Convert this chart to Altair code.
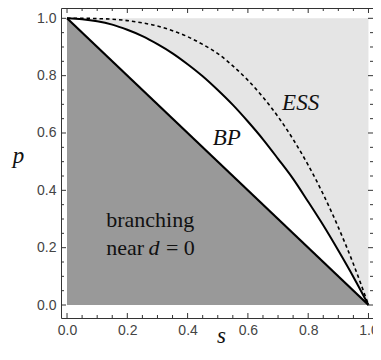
import altair as alt
import pandas as pd

# ---- data ----
s_grid = [0.0, 0.05, 0.1, 0.15, 0.2, 0.25, 0.3, 0.35, 0.4, 0.45, 0.5,
          0.55, 0.6, 0.65, 0.7, 0.75, 0.8, 0.85, 0.9, 0.95, 1.0]
bp_p = [1.0, 0.997, 0.99, 0.978, 0.96, 0.938, 0.91, 0.878, 0.84, 0.798, 0.75,
        0.698, 0.64, 0.578, 0.51, 0.44, 0.36, 0.278, 0.19, 0.098, 0.0]
ess_p = [1.0, 1.0, 0.999, 0.997, 0.992, 0.984, 0.973, 0.957, 0.936, 0.909, 0.877,
         0.834, 0.784, 0.725, 0.657, 0.578, 0.488, 0.386, 0.271, 0.143, 0.0]
diag_s = [0.0, 1.0]
diag_p = [1.0, 0.0]
box_s = [0.0, 1.0]
box_top = [1.0, 1.0]

major_ticks = [0.0, 0.2, 0.4, 0.6, 0.8, 1.0]
minor_ticks = [0.05, 0.1, 0.15, 0.25, 0.3, 0.35, 0.45, 0.5, 0.55,
               0.65, 0.7, 0.75, 0.85, 0.9, 0.95]

label_text = ["ESS", "BP"]
label_s = [0.775, 0.53]
label_p = [0.680, 0.558]

W, H = 312, 310

curves = pd.DataFrame({"s": s_grid, "bp": bp_p, "ess": ess_p})
diag = pd.DataFrame({"s": diag_s, "p": diag_p})
box = pd.DataFrame({"s": box_s, "p": box_top})
majors = pd.DataFrame({"t": major_ticks})
minors = pd.DataFrame({"t": minor_ticks})
labels = pd.DataFrame({"txt": label_text, "s": label_s, "p": label_p})

xs = alt.Scale(domain=[-0.02, 1.015], nice=False, zero=False)
ys = alt.Scale(domain=[-0.0453, 1.036], nice=False, zero=False)

xaxis = alt.Axis(values=major_ticks, format=".1f", ticks=False, tickSize=0, domain=False,
                 grid=False, labelPadding=5, labelFont="Liberation Sans", labelFontSize=14,
                 labelColor="#444", title="s", titleFont="Liberation Serif",
                 titleFontStyle="italic", titleFontWeight="normal", titleFontSize=23,
                 titleColor="#111", titleAlign="center", titleBaseline="alphabetic",
                 titleX=160, titleY=24, labelFlush=False)
yaxis = alt.Axis(values=major_ticks, format=".1f", ticks=False, tickSize=0, domain=False,
                 grid=False, labelPadding=5, labelFont="Liberation Sans", labelFontSize=14,
                 labelColor="#444", title="p", titleFont="Liberation Serif",
                 titleFontStyle="italic", titleFontWeight="normal", titleFontSize=23,
                 titleColor="#111", titleAngle=0, titleAlign="center",
                 titleBaseline="alphabetic", titleX=-43, titleY=154, labelFlush=False)

def X(f):
    return alt.X(f, type="quantitative", scale=xs, axis=xaxis)

def Y(f):
    return alt.Y(f, type="quantitative", scale=ys, axis=yaxis)

light = alt.Chart(box).mark_area(color="#e5e5e5").encode(x=X("s"), y=Y("p"), y2=alt.datum(0))
white = alt.Chart(curves).mark_area(color="#ffffff", interpolate="monotone").encode(
    x=X("s"), y=Y("bp"), y2=alt.datum(0))
dark = alt.Chart(diag).mark_area(color="#999999").encode(x=X("s"), y=Y("p"), y2=alt.datum(0))

diag_line = alt.Chart(diag).mark_line(color="#000", strokeWidth=2.2).encode(x=X("s"), y=Y("p"))
bp_line = alt.Chart(curves).mark_line(color="#000", strokeWidth=2, interpolate="monotone").encode(
    x=X("s"), y=Y("bp"))
ess_line = alt.Chart(curves).mark_line(color="#000", strokeWidth=1.6, strokeDash=[3.5, 3],
                                       interpolate="monotone").encode(x=X("s"), y=Y("ess"))

lab = alt.Chart(labels).mark_text(font="Liberation Serif", fontStyle="italic", fontSize=23,
                                  align="center", baseline="alphabetic", color="#111").encode(
    x=X("s"), y=Y("p"), text="txt")

def word(txt, s, p, italic=False):
    kw = {"fontStyle": "italic"} if italic else {}
    return alt.Chart(pd.DataFrame({"txt": [txt], "s": [s], "p": [p]})).mark_text(
        font="Liberation Serif", fontSize=22, align="left", baseline="alphabetic",
        color="#111", **kw).encode(x=X("s"), y=Y("p"), text="txt")

t1 = word("branching", 0.13, 0.273)
t2 = word("near", 0.13, 0.174)
t3 = word("d", 0.27, 0.174, italic=True)
t4 = word("= 0", 0.328, 0.174)

tick_color = "#333"
def xticks(df, length):
    b = alt.Chart(df).mark_rule(color=tick_color, strokeWidth=1).encode(
        x=X("t"), y=alt.value(H), y2=alt.value(H - length))
    t = alt.Chart(df).mark_rule(color=tick_color, strokeWidth=1).encode(
        x=X("t"), y=alt.value(0), y2=alt.value(length))
    return b + t

def yticks(df, length):
    l = alt.Chart(df).mark_rule(color=tick_color, strokeWidth=1).encode(
        y=Y("t"), x=alt.value(0), x2=alt.value(length))
    r = alt.Chart(df).mark_rule(color=tick_color, strokeWidth=1).encode(
        y=Y("t"), x=alt.value(W), x2=alt.value(W - length))
    return l + r

chart = alt.layer(
    light, white, dark, diag_line, bp_line, ess_line, lab, t1, t2, t3, t4,
    xticks(majors, 5), xticks(minors, 3), yticks(majors, 5), yticks(minors, 3)
).properties(
    width=W, height=H,
    autosize=alt.AutoSizeParams(type="none"),
    padding={"left": 53, "top": 0, "right": 0, "bottom": 28},
    background="white",
).configure_view(stroke="#333", strokeWidth=1)

chart.save("out.html", embed_options={"renderer": "svg", "actions": False})
